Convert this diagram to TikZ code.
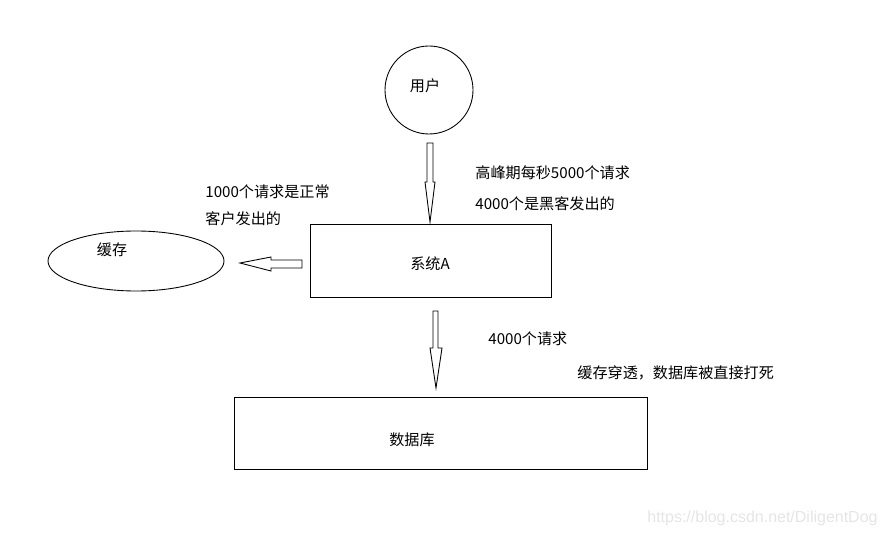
\documentclass[tikz,border=0pt]{standalone}
\usepackage{fontspec}
\newfontfamily\cjk{Noto Sans CJK SC}
\newfontfamily\wm{Liberation Sans}
\usetikzlibrary{shapes.geometric}
\begin{document}
\begin{tikzpicture}[x=0.02cm,y=-0.02cm,
  line width=0.5pt,
  lbl/.style={font=\cjk\fontsize{8.6pt}{10pt}\selectfont, inner sep=0pt},
  lblw/.style={lbl, anchor=west},
  box/.style={draw, rectangle, inner sep=0pt},
  blockarrow/.style={draw, fill=white, line join=miter}]
\useasboundingbox (0,0) rectangle (885,536);
% user circle
\node[draw, circle, minimum size=88*0.02cm, inner sep=0pt] (user) at (429,90) {};
\node[lbl] (userl) at (425,86) {用户};
% system A
\node[box, minimum width=241*0.02cm, minimum height=73*0.02cm] (sysA) at (430.5,260.5) {};
\node[lbl] (sysAl) at (430,264) {系统A};
% cache ellipse
\node[draw, ellipse, minimum width=176*0.02cm, minimum height=60*0.02cm, inner sep=0pt] (cache) at (136,261) {};
\node[lbl] (cachel) at (112,250) {缓存};
% database
\node[box, minimum width=413*0.02cm, minimum height=72*0.02cm] (db) at (440.5,433) {};
\node[lbl] (dbl) at (412,440) {数据库};
% arrow user -> system A
\draw[blockarrow] (427,143) -- (433,143) -- (433,182) -- (435,182) -- (430,222) -- (425,182) -- (427,182) -- cycle;
% arrow system A -> cache
\draw[blockarrow] (302,260) -- (302,268) -- (271,268) -- (271,271) -- (240,263) -- (271,257) -- (271,260) -- cycle;
% arrow system A -> db
\draw[blockarrow] (433,311) -- (438,311) -- (438,348) -- (442,348) -- (436,388) -- (430,348) -- (433,348) -- cycle;
% labels
\node[lblw] (t1) at (475,173) {高峰期每秒5000个请求};
\node[lblw] (t2) at (475,204) {4000个是黑客发出的};
\node[lblw] (t3) at (205,192) {1000个请求是正常};
\node[lblw] (t4) at (205,219) {客户发出的};
\node[lblw] (t5) at (488,339) {4000个请求};
\node[lblw] (t6) at (577,373) {缓存穿透，数据库被直接打死};
\node[anchor=east, inner sep=0pt, text=black!10, font=\wm\fontsize{9.1pt}{11pt}\selectfont] (wm) at (878,518) {https://blog.csdn.net/DiligentDog};
\end{tikzpicture}
\end{document}
